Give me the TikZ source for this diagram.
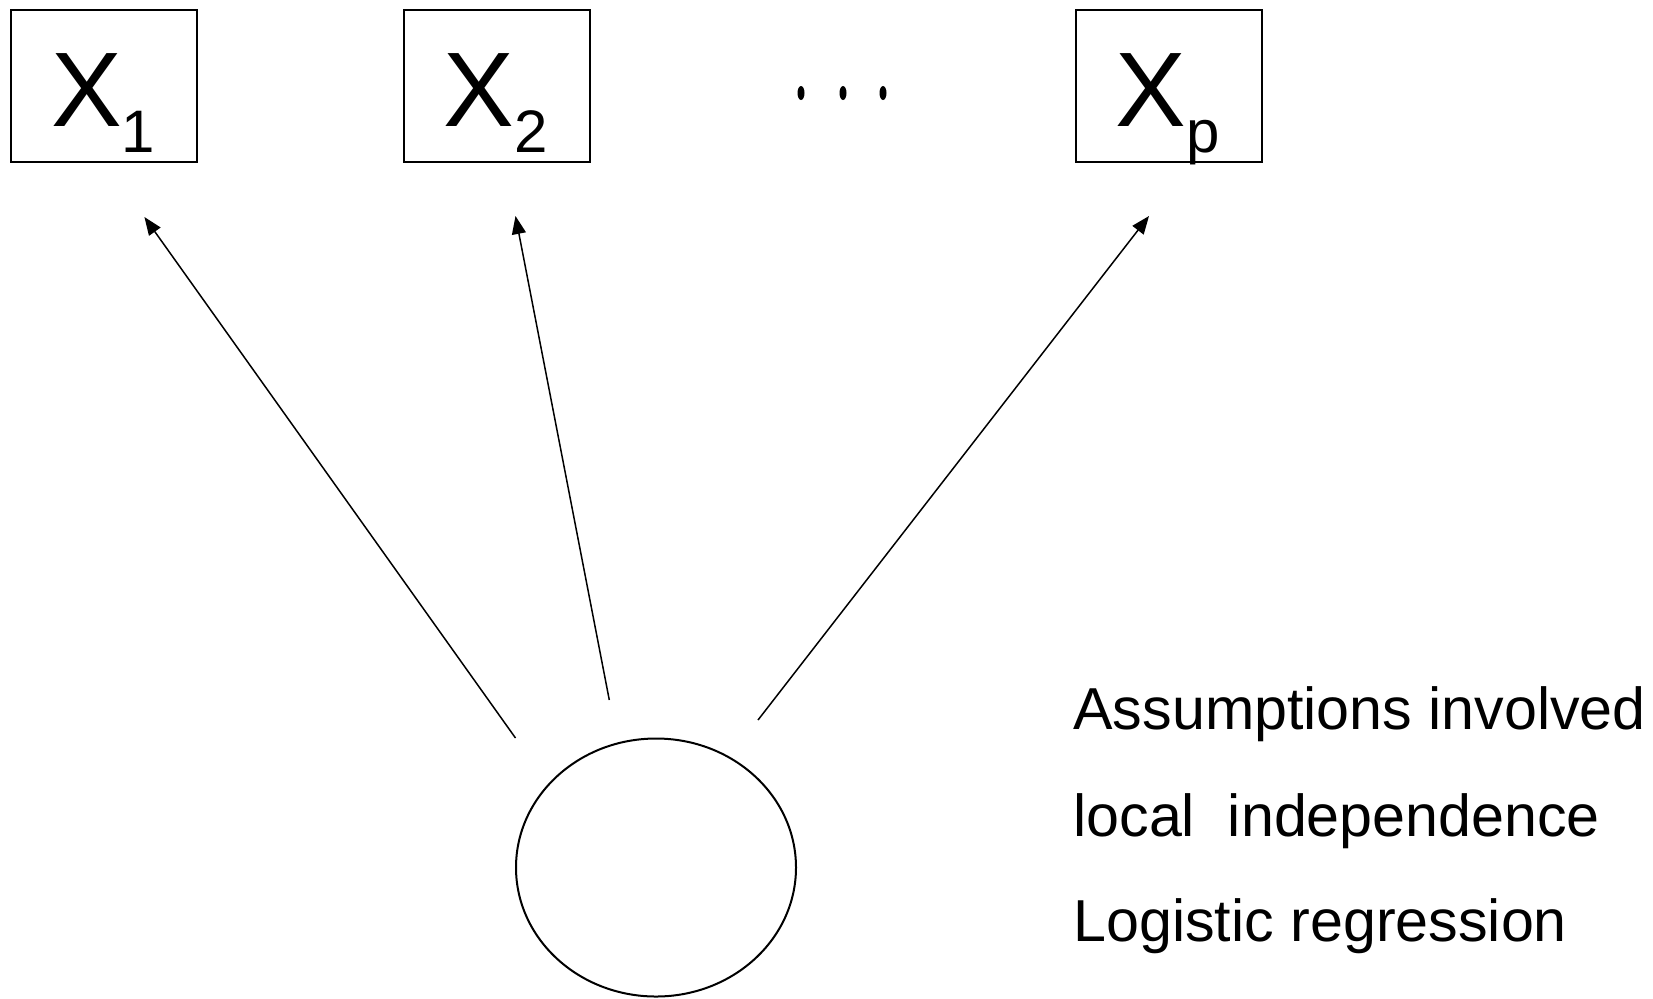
\documentclass[tikz,border=0pt]{standalone}
\usepackage{fontspec}
\setmainfont{Liberation Sans}
\usetikzlibrary{arrows.meta,shapes.geometric}
\begin{document}
\begin{tikzpicture}[x=0.5pt,y=-0.5pt,
  varbox/.style={draw,line width=1pt,minimum width=93pt,minimum height=76pt,inner sep=0pt},
  vartext/.style={anchor=base west,inner sep=0pt,font=\fontsize{53}{60}\selectfont},
  latent/.style={draw,ellipse,line width=1pt,minimum width=140pt,minimum height=129pt,inner sep=0pt},
  effect/.style={line width=0.75pt,-{Triangle[length=9pt,width=7pt]}},
  note/.style={anchor=base west,inner sep=0pt,font=\fontsize{29.6}{36}\selectfont},
  dot/.style={fill=black,draw=none}]
\useasboundingbox (0,0) rectangle (1653,998);
\newcommand{\sub}[1]{\raisebox{-13.2pt}{\fontsize{30}{30}\selectfont #1}}
\node[varbox] (b1) at (104.25,85.75) {};
\node[varbox] (b2) at (496.5,85.75) {};
\node[varbox] (bp) at (1169,85.75) {};
\node[vartext] (t1) at (50.6,126.5) {X\sub{1}};
\node[vartext] (t2) at (443,126.5) {X\sub{2}};
\node[vartext] (tp) at (1115,126.5) {X\sub{p}};
\fill[dot] (801,93) ellipse [x radius=3.5,y radius=7];
\fill[dot] (843,93) ellipse [x radius=3.5,y radius=7];
\fill[dot] (883,93) ellipse [x radius=3.5,y radius=7];
\node[latent] (f) at (656,867.5) {};
\coordinate (s1) at (515.5,738);
\coordinate (e1) at (144.4,217);
\coordinate (s2) at (609.3,700);
\coordinate (e2) at (515.5,216);
\coordinate (sp) at (758,720);
\coordinate (ep) at (1149,216);
\draw[effect] (s1) -- (e1);
\draw[effect] (s2) -- (e2);
\draw[effect] (sp) -- (ep);
\node[note] (n1) at (1073,729.5) {Assumptions involved};
\node[note] (n2) at (1073,836) {local\ \ independence};
\node[note] (n3) at (1073,941.5) {Logistic regression};
\end{tikzpicture}
\end{document}
